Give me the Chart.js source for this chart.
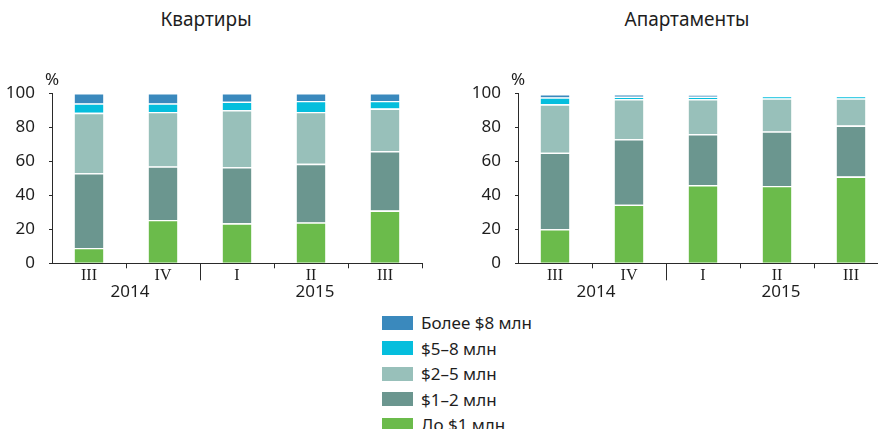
<!DOCTYPE html>
<html>
<head>
<meta charset="utf-8">
<script src="https://cdn.jsdelivr.net/npm/chart.js@4"></script>
<style>
  html, body { margin: 0; padding: 0; background: #fff; overflow: hidden; }
  body { width: 878px; height: 429px; position: relative; font-family: "Noto Sans", "Open Sans", sans-serif; color: #1e1e1e; }
  .title { position: absolute; top: 6px; font-size: 19px; width: 300px; text-align: center; }
  .box { position: absolute; top: 60px; width: 430px; height: 250px; }
  #legend { position: absolute; left: 382px; top: 310px; }
  .row { height: 25.5px; display: flex; align-items: center; font-size: 17px; white-space: nowrap; }
  .sw { width: 31px; height: 14px; margin-right: 8px; }
</style>
</head>
<body>
<div class="title" style="left:56px">Квартиры</div>
<div class="title" style="left:537px">Апартаменты</div>
<div class="box" style="left:0"><canvas id="flats"></canvas></div>
<div class="box" style="left:466px"><canvas id="apts"></canvas></div>
<div id="legend"></div>

<script>
// categories
var quarters = ['III', 'IV', 'I', 'II', 'III'];
var years = ['2014', '2015'];
var yearSpans = [[0, 1], [2, 4]];
var yTicks = [0, 20, 40, 60, 80, 100];

// series, from bottom of the stack to top
var seriesNames = ['До $1 млн', '$1–2 млн', '$2–5 млн', '$5–8 млн', 'Более $8 млн'];
var seriesColors = ['#6bbb4b', '#6b968f', '#98c0ba', '#05bedd', '#3a89bd'];

// Квартиры, %
var flatsUpTo1 = [9, 25.5, 23.5, 24, 31];
var flats1to2  = [44, 31.5, 33, 34.5, 35];
var flats2to5  = [35.5, 32, 33.5, 30.5, 25];
var flats5to8  = [5.5, 5, 5, 6.5, 4.5];
var flatsOver8 = [6, 6, 5, 4.5, 4.5];

// Апартаменты, %
var aptsUpTo1 = [20, 34.5, 46, 45.5, 51];
var apts1to2  = [45, 38.5, 30, 32, 30];
var apts2to5  = [28.5, 23.5, 20.5, 19.5, 16];
var apts5to8  = [4, 1.5, 1.5, 1.5, 1.5];
var aptsOver8 = [2, 1.5, 1, 0, 0];

var AXIS = '#2a2a2a';
var SANS = '"Noto Sans", "Open Sans", sans-serif';

// year row, long separator and the % sign
var extras = {
    id: 'extras',
    afterDraw: function (chart) {
        var c = chart.ctx, x = chart.scales.x, a = chart.chartArea;
        c.save();
        c.strokeStyle = AXIS;
        c.lineWidth = 1;
        var sep = Math.round((x.getPixelForTick(1) + x.getPixelForTick(2)) / 2) + 0.5;
        c.beginPath();
        c.moveTo(sep, a.bottom);
        c.lineTo(sep, a.bottom + 17);
        c.stroke();

        c.fillStyle = '#1e1e1e';
        c.font = '17px ' + SANS;
        c.textAlign = 'center';
        c.textBaseline = 'middle';
        years.forEach(function (y, i) {
            var s = yearSpans[i];
            var cx = (x.getPixelForTick(s[0]) + x.getPixelForTick(s[1])) / 2 + 4;
            c.fillText(y, cx, a.bottom + 29);
        });
        c.fillText('%', a.left, a.top - 13);
        c.restore();
    }
};

function makeChart(id, values) {
    var ctx = document.getElementById(id).getContext('2d');
    var datasets = values.map(function (v, i) {
        return {
            label: seriesNames[i],
            data: v,
            backgroundColor: seriesColors[i],
            borderColor: '#ffffff',
            borderWidth: { top: 1.3, right: 0, bottom: 0, left: 0 },
            borderSkipped: 'start',
            barPercentage: 0.39,
            categoryPercentage: 1
        };
    });
    return new Chart(ctx, {
        type: 'bar',
        data: { labels: quarters, datasets: datasets },
        plugins: [extras],
        options: {
            responsive: false,
            animation: false,
            maintainAspectRatio: false,
            layout: { padding: { top: 33.3, right: 8, left: 0, bottom: 0 } },
            plugins: { legend: { display: false }, tooltip: { enabled: false } },
            scales: {
                x: {
                    stacked: true,
                    afterFit: function (s) { s.height = 46.7; },
                    border: { display: true, color: AXIS, width: 1 },
                    grid: {
                        offset: true,
                        drawOnChartArea: false,
                        drawTicks: true,
                        tickLength: 5,
                        color: function (c) { return (c.index === 0 || c.index >= quarters.length) ? 'rgba(0,0,0,0)' : AXIS; }
                    },
                    ticks: {
                        padding: -2,
                        color: '#1e1e1e',
                        font: { family: '"Liberation Serif", "DejaVu Serif", serif', size: 16 }
                    }
                },
                y: {
                    stacked: true,
                    min: 0,
                    max: 100,
                    afterFit: function (s) { s.width = 52; },
                    afterBuildTicks: function (s) { s.ticks = yTicks.map(function (v) { return { value: v }; }); },
                    border: { display: true, color: AXIS, width: 1 },
                    grid: { drawOnChartArea: false, drawTicks: true, tickLength: 3, color: AXIS },
                    ticks: {
                        padding: 14,
                        color: '#1e1e1e',
                        font: { family: SANS, size: 17 }
                    }
                }
            }
        }
    });
}

var cvs = document.querySelectorAll('canvas');
cvs.forEach(function (c) { c.width = 430; c.height = 250; });

makeChart('flats', [flatsUpTo1, flats1to2, flats2to5, flats5to8, flatsOver8]);
makeChart('apts', [aptsUpTo1, apts1to2, apts2to5, apts5to8, aptsOver8]);

// legend, top row is the top of the stack
var lg = document.getElementById('legend');
for (var i = seriesNames.length - 1; i >= 0; i--) {
    var row = document.createElement('div');
    row.className = 'row';
    row.innerHTML = '<div class="sw" style="background:' + seriesColors[i] + '"></div><span>' + seriesNames[i] + '</span>';
    lg.appendChild(row);
}
</script>
</body>
</html>
